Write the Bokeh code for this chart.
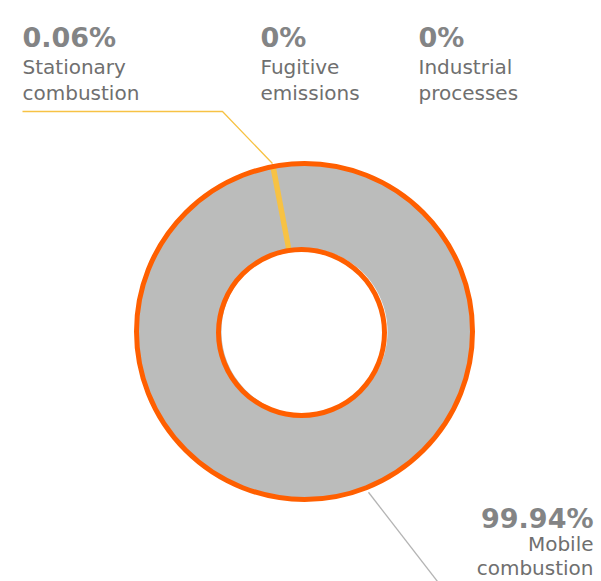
import math
from bokeh.plotting import figure
from bokeh.models import Range1d
from bokeh.core.properties import value
from bokeh.embed import file_html
from bokeh.resources import INLINE

# ---- data ----
categories = ["Stationary combustion", "Fugitive emissions", "Industrial processes", "Mobile combustion"]
label_lines = [["Stationary", "combustion"], ["Fugitive", "emissions"], ["Industrial", "processes"], ["Mobile", "combustion"]]
shares = [0.06, 0.0, 0.0, 99.94]
pct_labels = ["0.06%", "0%", "0%", "99.94%"]
slice_colors = ["#f7c244", "#f7c244", "#f7c244", "#bbbcbb"]

W, H = 601, 581
p = figure(width=W, height=H, output_backend="svg", toolbar_location=None,
           x_range=Range1d(0, W), y_range=Range1d(0, H), min_border=0)
p.axis.visible = False
p.grid.visible = False
p.outline_line_color = None
p.background_fill_color = "white"
p.border_fill_color = "white"

def Y(t):  # convert top-based pixel to data y
    return H - t

cx, cy = 304, Y(331)
r_out, r_in = 168, 83

# angles: stationary slice centred at ~100.8 deg, slices going clockwise
total = sum(shares)
start = math.radians(100.8) + math.radians(360 * shares[0] / total) / 2
angles = []
a = start
for s in shares:
    span = math.radians(360 * s / total)
    angles.append((a - span, a))
    a -= span

# draw large slices first, tiny ones on top so they stay visible
order = sorted(range(len(shares)), key=lambda i: -shares[i])
for i in order:
    s = shares[i]
    if s <= 0:
        continue
    a0, a1 = angles[i]
    c = slice_colors[i]
    p.annular_wedge(x=cx, y=cy, inner_radius=r_in, outer_radius=r_out,
                    start_angle=a0, end_angle=a1, fill_color=c,
                    line_color=c, line_width=5 if s < 1 else 0)

# orange outline
p.circle(x=cx, y=cy, radius=r_out, fill_alpha=0, line_color="#ff5f00", line_width=5)
p.circle(x=cx - 3, y=cy - 1, radius=r_in, fill_alpha=0, line_color="#ff5f00", line_width=5)

# leader for stationary
am = (angles[0][0] + angles[0][1]) / 2
ex, ey = cx + (r_out + 3) * math.cos(am), cy + (r_out + 3) * math.sin(am)
p.line(x=[22, 222, ex], y=[Y(111), Y(111), ey], line_color="#f7c244", line_width=1.3)

# leader for mobile
lm = math.radians(-68.3)
sx, sy = cx + (r_out + 5) * math.cos(lm), cy + (r_out + 5) * math.sin(lm)
p.line(x=[sx, 437], y=[sy, 0], line_color="#b4b4b4", line_width=1.3)

# labels
bold_col = "#838485"
txt_col = "#6f6f6f"
font = value("DejaVu Sans")
top_x = [22, 260, 418]
for i in range(3):
    p.text(x=[top_x[i]], y=[Y(37)], text=[pct_labels[i]], text_font=font,
           text_font_style="bold", text_font_size="27px", text_color=bold_col,
           text_baseline="alphabetic", text_align="left")
    p.text(x=[top_x[i]] * 2, y=[Y(66), Y(92)], text=label_lines[i], text_font=font,
           text_font_size="20px", text_color=txt_col,
           text_baseline="alphabetic", text_align="left")

p.text(x=[593], y=[Y(518)], text=[pct_labels[3]], text_font=font,
       text_font_style="bold", text_font_size="27px", text_color=bold_col,
       text_baseline="alphabetic", text_align="right")
p.text(x=[593] * 2, y=[Y(543), Y(567)], text=label_lines[3], text_font=font,
       text_font_size="20px", text_color=txt_col,
       text_baseline="alphabetic", text_align="right")

open("out.html", "w").write(file_html(p, INLINE))
